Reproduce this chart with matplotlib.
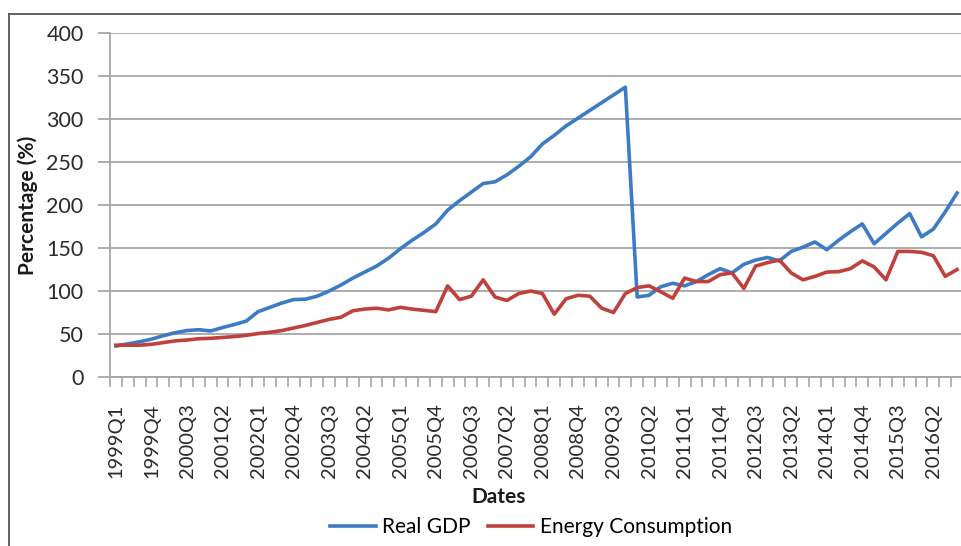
import matplotlib
matplotlib.use("Agg")
import matplotlib.pyplot as plt
from matplotlib.lines import Line2D

plt.rcParams['font.family'] = ['Lato', 'DejaVu Sans']

# quarterly categories 1999Q1 .. 2016Q4
quarters = [f"{y}Q{q}" for y in range(1999, 2017) for q in range(1, 5)]

real_gdp = [36, 38.5, 41, 44, 48, 51.5, 54, 55, 53.5, 57.5, 61, 65,
            76, 81, 86, 90, 90.5, 94, 100, 107, 115, 122, 129, 138,
            149, 159, 168, 178, 194, 205, 215, 225, 227, 235, 245, 256,
            271, 281, 292, 301, 310, 319, 328, 337, 93, 95, 105, 109,
            106, 111, 119, 126, 121, 131, 136, 139, 135, 146, 151, 157,
            148, 159, 169, 178, 155, 167, 179, 190, 163, 172, 192, 214]

energy = [37, 37, 37, 38, 40, 42, 43, 44.5, 45, 46, 47, 48.5,
          50.5, 52, 54, 57, 60, 63.5, 67, 69.5, 77, 79, 80, 78,
          81, 79, 77.5, 76, 106, 90, 94, 113, 93, 89, 97, 100,
          97, 73, 91, 95, 94, 80, 75, 97, 104, 106, 99, 91.5,
          115, 111, 111, 119, 121, 103, 129, 133, 136, 121, 113, 117,
          122, 122.5, 126, 135, 128, 113, 146, 146, 145, 141, 117, 125]

yticks = [0, 50, 100, 150, 200, 250, 300, 350, 400]

W, H = 962, 546
fig = plt.figure(figsize=(W / 100, H / 100), dpi=100)
ax = fig.add_axes([110 / W, 1 - 377 / H, 853 / W, 344 / H])

x = list(range(len(quarters)))
ax.plot(x, real_gdp, color='#3d7cc4', lw=2.6, label='Real GDP', zorder=3)
ax.plot(x, energy, color='#c0403c', lw=2.6, label='Energy Consumption', zorder=3)

ax.set_xlim(-0.5, len(quarters) - 0.5)
ax.set_ylim(0, 400)
ax.set_yticks(yticks)
ax.yaxis.grid(True, color='#a6a6a6', lw=1.3)
ax.set_axisbelow(True)

ax.set_xticks(x[::3])
ax.set_xticklabels(quarters[::3], rotation=90)
ax.set_xticks([i - 0.5 for i in range(len(quarters) + 1)], minor=True)
ax.tick_params(axis='x', which='major', length=0, pad=19, labelsize=14.5, colors='#2a2a2a')
ax.tick_params(axis='x', which='minor', length=7, width=1.2, color='#a6a6a6')
ax.tick_params(axis='y', length=9, width=1.3, color='#a6a6a6', pad=10,
               labelsize=15.5, labelcolor='#2a2a2a')

for s in ['top', 'right']:
    ax.spines[s].set_visible(False)
for s in ['left', 'bottom']:
    ax.spines[s].set_color('#a6a6a6')
    ax.spines[s].set_linewidth(1.3)

ax.set_ylabel('Percentage (%)', fontsize=15, fontweight='bold', color='#1a1a1a')
ax.yaxis.set_label_coords(-72 / 853, 0.5)
ax.set_xlabel('Dates', fontsize=15, fontweight='bold', color='#1a1a1a')
ax.xaxis.set_label_coords(0.455, -110 / 344)

fig.legend(loc='center', bbox_to_anchor=(531 / W, 1 - 527 / H), ncol=2,
           frameon=False, fontsize=15, handlelength=2.2, handletextpad=0.3,
           columnspacing=0.8)

# outer frame of the screenshot
fig.add_artist(Line2D([9 / W, 9 / W], [0, 1 - 14 / H], color='#555555', lw=1.3))
fig.add_artist(Line2D([9 / W, 1], [1 - 14 / H, 1 - 14 / H], color='#555555', lw=1.3))

fig.savefig('out.png', dpi=100)
